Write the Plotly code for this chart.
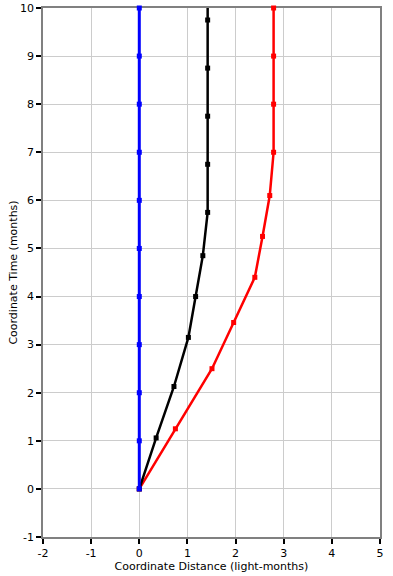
import plotly.graph_objects as go

# Data
blue_x = [0, 0, 0, 0, 0, 0, 0, 0, 0, 0, 0]
blue_t = [0, 1, 2, 3, 4, 5, 6, 7, 8, 9, 10]

black_x = [0, 0.35, 0.72, 1.02, 1.17, 1.32, 1.42, 1.42, 1.42, 1.42, 1.42, 1.42]
black_t = [0, 1.06, 2.13, 3.15, 4.00, 4.85, 5.75, 6.75, 7.75, 8.75, 9.75, 10.0]

red_x = [0, 0.75, 1.51, 1.96, 2.40, 2.56, 2.71, 2.79, 2.79, 2.79, 2.79]
red_t = [0, 1.25, 2.50, 3.46, 4.40, 5.25, 6.10, 7.0, 8.0, 9.0, 10.0]

x_ticks = [-2, -1, 0, 1, 2, 3, 4, 5]
x_labels = ["-2", "-1", "0", "1", "2", "3", "4", "5"]
y_ticks = [-1, 0, 1, 2, 3, 4, 5, 6, 7, 8, 9, 10]
y_labels = ["-1", "0", "1", "2", "3", "4", "5", "6", "7", "8", "9", "10"]

fig = go.Figure()
fig.add_trace(go.Scatter(x=red_x, y=red_t, mode="lines+markers",
                         line=dict(color="#ff0000", width=2.5),
                         marker=dict(symbol="square", size=5, color="#ff0000"),
                         cliponaxis=False))
fig.add_trace(go.Scatter(x=black_x, y=black_t, mode="lines",
                         line=dict(color="#000000", width=2.5), cliponaxis=False))
fig.add_trace(go.Scatter(x=black_x[:11], y=black_t[:11], mode="markers",
                         marker=dict(symbol="square", size=5, color="#000000"),
                         cliponaxis=False))
fig.add_trace(go.Scatter(x=blue_x, y=blue_t, mode="lines+markers",
                         line=dict(color="#0000ff", width=3),
                         marker=dict(symbol="square", size=5, color="#0000ff"),
                         cliponaxis=False))

axis_common = dict(showgrid=True, gridcolor="#cccccc", gridwidth=1,
                   showline=True, linecolor="#808080", linewidth=1.5, mirror=True,
                   ticks="outside", ticklen=5, tickcolor="#000000", tickwidth=1.5,
                   automargin=False, layer="below traces",
                   zeroline=False, tickfont=dict(family="DejaVu Sans", size=11, color="#000000"))

fig.update_layout(
    width=393, height=576,
    margin=dict(l=43, r=13, t=8, b=39),
    paper_bgcolor="white", plot_bgcolor="white",
    showlegend=False,
    xaxis=dict(range=[-2, 5], tickvals=x_ticks, ticktext=x_labels, **axis_common,
               title=dict(text="Coordinate Distance (light-months)", standoff=2,
                          font=dict(family="DejaVu Sans", size=11, color="#000000"))),
    yaxis=dict(range=[-1, 10], tickvals=y_ticks, ticktext=y_labels, **axis_common,
               title=dict(text="Coordinate Time (months)", standoff=0,
                          font=dict(family="DejaVu Sans", size=11, color="#000000"))),
)

fig.write_html("out.html", config={"displayModeBar": False},
               post_script="document.body.style.margin='0';")
